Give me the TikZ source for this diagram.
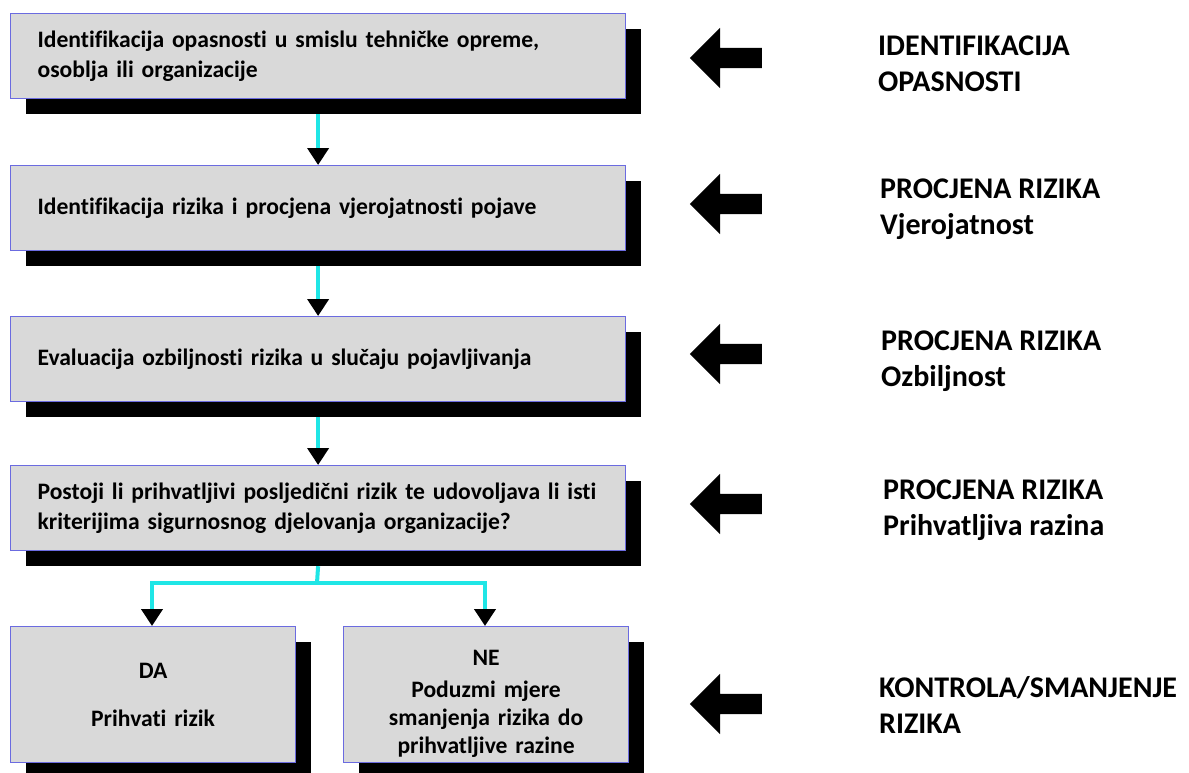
\documentclass[tikz,border=0pt]{standalone}
\usepackage{fontspec}
\setmainfont{Carlito}[Ligatures=NoCommon]
\usetikzlibrary{arrows.meta,shadows,shapes.arrows}
\definecolor{boxgray}{HTML}{D9D9D9}
\definecolor{boxline}{HTML}{6B6BE0}
\definecolor{conn}{HTML}{1FE6E6}
\newcommand\bxl[1]{\makebox[561pt][l]{#1}}
\tikzset{
  box/.style={draw=boxline, line width=1.2pt, fill=boxgray, anchor=north west,
    drop shadow={shadow xshift=15pt, shadow yshift=-15pt, fill=black, opacity=1},
    font=\bfseries\fontsize{23.6}{30}\selectfont},
  wide/.style={box, minimum width=615pt, minimum height=85pt, inner xsep=27pt, inner ysep=0pt, text width=561pt, align=left},
  small/.style={box, minimum width=285pt, minimum height=136pt, inner sep=0pt, text width=270pt, align=center},
  conn/.style={draw=conn, line width=4pt},
  tip/.style={-{Triangle[length=17pt,width=21pt,color=black]}},
  bigarrow/.style={single arrow, fill=black, minimum height=72pt, inner xsep=0pt, inner ysep=10pt,
    single arrow head extend=20pt, shape border rotate=180},
  lab/.style={anchor=west, align=left, font=\bfseries\fontsize{30}{36}\selectfont, inner sep=0pt}
}
\begin{document}
\begin{tikzpicture}[x=1pt,y=-1pt]
\useasboundingbox (0,0) rectangle (1189,772);
\fill[white] (0,0) rectangle (1189,772);
\coordinate (br) at (317,583);
\coordinate (bl) at (152,583);
\coordinate (brr) at (485,583);
% boxes
\node[wide] (b1) at (10,13) {\bxl{Identifikacija opasnosti u smislu tehničke opreme,}\\\bxl{osoblja ili organizacije}};
\node[wide] (b2) at (10,165) {\bxl{Identifikacija rizika i procjena vjerojatnosti pojave}};
\node[wide] (b3) at (10,316) {\bxl{Evaluacija ozbiljnosti rizika u slučaju pojavljivanja}};
\node[wide] (b4) at (10,465) {\bxl{Postoji li prihvatljivi posljedični rizik te udovoljava li isti}\\\bxl{kriterijima sigurnosnog djelovanja organizacije?}};
\node[small] (b5) at (10,626) {DA\\[18pt]Prihvati rizik};
\node[small, font=\bfseries\fontsize{23.6}{28}\selectfont] (b6) at (343,626) {\rule{0pt}{34pt}NE\\[4pt]Poduzmi mjere\\smanjenja rizika do\\prihvatljive razine};
% connectors
\draw[conn,tip] ([yshift=-15pt]b1.south) -- (b2.north);
\draw[conn,tip] ([yshift=-15pt]b2.south) -- (b3.north);
\draw[conn,tip] ([yshift=-15pt]b3.south) -- (b4.north);
\draw[conn] ([yshift=-15pt]b4.south) -- (br);
\draw[conn,tip] (br) -- (bl) -- (bl |- b5.north);
\draw[conn,tip] (br) -- (brr) -- (brr |- b6.north);
% right arrows
\node[bigarrow] (a1) at (731,58) {};
\node[bigarrow] (a2) at (731,204) {};
\node[bigarrow] (a3) at (731,354) {};
\node[bigarrow] (a4) at (731,504) {};
\node[bigarrow] (a5) at (731,704) {};
% labels
\node[lab] (l1) at (878,64) {IDENTIFIKACIJA\\OPASNOSTI};
\node[lab] (l2) at (880,209) {PROCJENA RIZIKA\\Vjerojatnost};
\node[lab] (l3) at (881,361) {PROCJENA RIZIKA\\Ozbiljnost};
\node[lab] (l4) at (883,510) {PROCJENA RIZIKA\\Prihvatljiva razina};
\node[lab] (l5) at (879,705) {KONTROLA/SMANJENJE\\RIZIKA};
\end{tikzpicture}
\end{document}
